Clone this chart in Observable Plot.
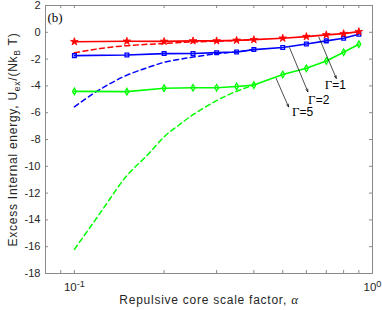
<!DOCTYPE html>
<html><head><meta charset="utf-8">
<script src="https://cdn.jsdelivr.net/npm/d3@7"></script>
<script src="https://cdn.jsdelivr.net/npm/@observablehq/plot@0.6"></script>
<style>body{margin:0;background:#fff}</style>
</head><body><div id="chart"></div>
<script>
// --- data ---
const alpha = [0.1, 0.15, 0.2, 0.25, 0.3, 0.35, 0.4, 0.5, 0.6, 0.7, 0.8, 0.9];
const gamma1 = [-0.70, -0.67, -0.68, -0.64, -0.64, -0.60, -0.55, -0.44, -0.32, -0.19, -0.10, 0.05];
const gamma2 = [-1.74, -1.69, -1.59, -1.58, -1.52, -1.47, -1.29, -1.14, -0.87, -0.64, -0.44, -0.14];
const gamma5 = [-4.41, -4.43, -4.17, -4.14, -4.14, -4.04, -3.94, -3.15, -2.69, -2.14, -1.49, -0.89];

const alphaDash = [0.1, 0.115, 0.13, 0.15, 0.175, 0.2, 0.225, 0.25, 0.3, 0.35, 0.4];
const gamma1Dash = [-1.53, -1.30, -1.13, -1.00, -0.90, -0.83, -0.77, -0.72, -0.66, -0.61, -0.56];
const gamma2Dash = [-5.56, -4.62, -3.90, -3.20, -2.65, -2.24, -2.02, -1.85, -1.60, -1.47, -1.29];
const gamma5Dash = [-16.2, -14.3, -12.6, -10.7, -9.2, -7.8, -6.9, -6.15, -5.1, -4.4, -3.94];

const annLabels = ["Γ=1", "Γ=2", "Γ=5"];
const annX1 = [0.661, 0.527, 0.475];
const annY1 = [-0.37, -1.15, -3.44];
const annX2 = [0.756, 0.607, 0.523];
const annY2 = [-3.44, -4.44, -5.57];
const annTextX = [0.751, 0.660, 0.583];
const annTextY = [-3.94, -5.03, -5.96];

const xTickLabels = [0.1, 1];
const xMinorTicks = [0.09, 0.1, 0.2, 0.3, 0.4, 0.5, 0.6, 0.7, 0.8, 0.9, 1];
const yTicks = [-18, -16, -14, -12, -10, -8, -6, -4, -2, 0, 2];
const xLabel = "Repulsive core scale factor, α";
const yLabel = "Excess Internal energy, Uex/(NkB T)";
const panelLabel = "(b)";

// --- tables ---
const rows = (xs, ys) => xs.map((x, i) => ({x, y: ys[i]}));
const s1 = rows(alpha, gamma1), s2 = rows(alpha, gamma2), s5 = rows(alpha, gamma5);
const d1 = rows(alphaDash, gamma1Dash), d2 = rows(alphaDash, gamma2Dash), d5 = rows(alphaDash, gamma5Dash);
const ann = annLabels.map((t, i) => ({t, x1: annX1[i], y1: annY1[i], x2: annX2[i], y2: annY2[i], tx: annTextX[i], ty: annTextY[i]}));

const W = 382, H = 310, mL = 45, mR = 10, mT = 5, mB = 37;
const fw = W - mL - mR, fh = H - mT - mB;
const axisCol = "#8a8a8a";
const textCol = "#262626";
const RED = "#ff0000", BLUE = "#0000ff", GREEN = "#00ff00";
const dash = "5,3.5";
const serif = "'Liberation Serif', 'Times New Roman', serif";

const chart = Plot.plot({
  width: W, height: H,
  marginLeft: mL, marginRight: mR, marginTop: mT, marginBottom: mB,
  style: {fontFamily: "'Liberation Sans', Arial, sans-serif", background: "#fff"},
  x: {type: "log", domain: [0.08, 1], axis: null},
  y: {domain: [-18, 2], axis: null},
  marks: [
    // ticks inward on all sides
    Plot.tickX(xMinorTicks, {x: d => d, insetTop: fh - 3, stroke: axisCol}),
    Plot.tickX(xMinorTicks, {x: d => d, insetBottom: fh - 3, stroke: axisCol}),
    Plot.tickY(yTicks, {y: d => d, insetRight: fw - 3, stroke: axisCol}),
    Plot.tickY(yTicks, {y: d => d, insetLeft: fw - 3, stroke: axisCol}),
    Plot.frame({stroke: axisCol}),
    Plot.axisY({ticks: yTicks, tickSize: 0, tickPadding: 5, fontSize: 11, tickFormat: d => String(d), label: null, color: textCol}),
    Plot.axisX({ticks: xTickLabels, tickSize: 0, tickPadding: 9, fontSize: 11.5, tickFormat: d => d === 1 ? "10^0" : "10^-1", label: null, color: textCol}),
    // dashed curves
    Plot.line(d1, {x: "x", y: "y", stroke: RED, strokeWidth: 1.5, strokeDasharray: dash, curve: "natural"}),
    Plot.line(d2, {x: "x", y: "y", stroke: BLUE, strokeWidth: 1.5, strokeDasharray: dash, curve: "natural"}),
    Plot.line(d5, {x: "x", y: "y", stroke: GREEN, strokeWidth: 1.5, strokeDasharray: dash, curve: "natural"}),
    // solid lines with markers
    Plot.line(s5, {x: "x", y: "y", stroke: GREEN, strokeWidth: 1.6}),
    Plot.dot(s5, {x: "x", y: "y", symbol: "diamond", r: 2.0, stroke: GREEN, strokeWidth: 1.3, fill: "none"}),
    Plot.line(s2, {x: "x", y: "y", stroke: BLUE, strokeWidth: 1.6}),
    Plot.dot(s2, {x: "x", y: "y", symbol: "square", r: 2.1, stroke: BLUE, strokeWidth: 1.3, fill: "none"}),
    Plot.line(s1, {x: "x", y: "y", stroke: RED, strokeWidth: 1.6}),
    Plot.dot(s1, {x: "x", y: "y", symbol: "star", r: 2.4, stroke: RED, strokeWidth: 0.8, fill: RED}),
    // annotations
    Plot.arrow(ann, {x1: "x1", y1: "y1", x2: "x2", y2: "y2", stroke: "#000", strokeWidth: 0.7, headLength: 6, headAngle: 40}),
    Plot.text(ann, {x: "tx", y: "ty", text: "t", fontSize: 12, fill: "#000"}),
    Plot.text([panelLabel], {frameAnchor: "top-left", dx: 2, dy: 12, lineAnchor: "middle", fontSize: 13, fill: "#000", fontFamily: serif}),
    Plot.text([xLabel], {frameAnchor: "bottom", dy: 27, lineAnchor: "middle", textAnchor: "middle", fontSize: 12, fill: textCol}),
    Plot.text([yLabel], {frameAnchor: "left", dx: -32, rotate: -90, lineAnchor: "middle", textAnchor: "middle", fontSize: 12, fill: textCol})
  ]
});
document.getElementById("chart").appendChild(chart);

// --- rich text post-processing (superscripts / subscripts / Greek) ---
const svg = d3.select(chart);
const byText = s => svg.selectAll("text").filter(function() { return this.textContent === s; });
svg.selectAll('g[aria-label="x-axis tick label"] text').each(function() {
  const t = d3.select(this);
  const s = t.text();
  const exp = s.split("^")[1];
  t.text("10");
  t.append("tspan").attr("dy", "-0.45em").attr("font-size", "0.8em").text(exp);
});
annLabels.forEach(s => byText(s).each(function() {
  const t = d3.select(this);
  t.text("");
  t.append("tspan").attr("font-family", serif).attr("font-size", "13").text(s[0]);
  t.append("tspan").text(s.slice(1));
}));
byText(xLabel).each(function() {
  const t = d3.select(this);
  t.attr("letter-spacing", "0.75px");
  t.text("Repulsive core scale factor, ");
  t.append("tspan").attr("font-family", serif).attr("font-style", "italic").attr("font-size", "13").text("α");
});
byText(yLabel).each(function() {
  const t = d3.select(this);
  t.attr("letter-spacing", "0.75px");
  t.text("Excess Internal energy, U");
  t.append("tspan").attr("dy", 3).attr("font-size", 8.5).text("ex");
  t.append("tspan").attr("dy", -3).text("/(Nk");
  t.append("tspan").attr("dy", 3).attr("font-size", 8.5).text("B");
  t.append("tspan").attr("dy", -3).text(" T)");
});
</script>
</body></html>
